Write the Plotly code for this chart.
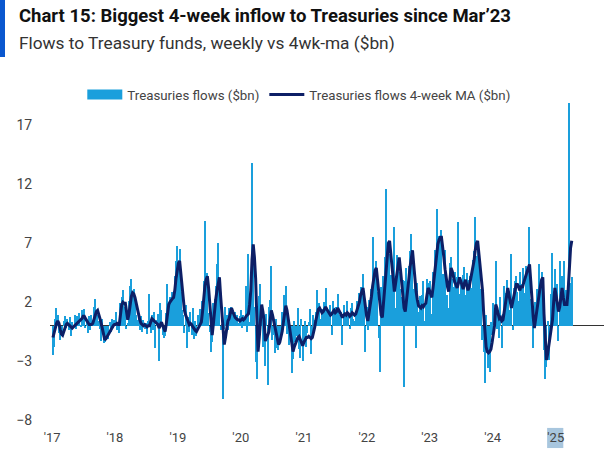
import plotly.graph_objects as go
import pandas as pd

# weekly flows to Treasury funds ($bn), one list per year
flows_2017 = [-2.5, -1.8, 0.6, 1.5, 0.9, -0.6, -1.2, -0.9, -0.5, 0.4, 0.8, -0.2, 0.6,
              -0.4, 0.7, -0.9, 0.3, -0.2, 0.9, -0.3, 0.8, 0.2, 1.1, -0.1, 1.3, 0.7,
              1.4, -0.2, 0.5, -0.6, 0.8, -0.4, 0.9, 0.1, 1.6, 2.3, 1.2, 0.9, 0.4,
              -0.3, -1.3, 0.6, -1.5, -1.4, -1.0, -0.6, -1.1, 0.3, -0.5, 0.6, -0.2, 0.5]
flows_2018 = [1.2, -0.4, 0.3, -0.6, 1.9, 2.4, 3.0, 1.0, 1.6, -0.3, 0.2, 2.1, 3.4,
              4.0, 2.7, 3.1, 1.8, 0.9, 0.5, 0.6, -0.4, 0.8, -0.5, 0.5, -0.3, 0.2,
              -0.7, 0.4, 2.7, -0.6, 0.9, -0.4, 1.2, -1.9, 0.5, 1.0, -3.0, 1.9, 1.3,
              -0.8, -1.0, -0.9, 1.1, 3.5, 1.5, 2.4, 1.6, 2.9, 2.6, 4.2, 5.5, 6.8]
flows_2019 = [4.8, 6.5, 2.9, 1.3, 0.9, -0.6, 1.8, -1.9, 0.7, -0.5, 1.2, -0.8, 1.5,
              -1.1, 0.4, -0.9, 0.9, -0.2, 1.4, 0.6, 2.1, 3.8, 8.9, 2.6, 4.5, 1.1,
              -0.5, -2.2, -1.4, 1.9, 2.3, 3.4, 5.2, 7.0, 2.8, -0.4, 0.1, -6.2, -0.3,
              1.6, 0.9, -0.4, 1.5, 0.8, 1.6, 1.1, 0.3, 1.2, 0.4, 0.9, 0.2, 0.8]
flows_2020 = [1.3, -0.2, 0.9, 0.4, 3.4, -0.5, 6.1, 0.3, 4.2, 13.8, 5.5, 1.6, -3.1,
              -4.5, -1.2, 2.5, 3.5, 1.1, -1.8, 0.2, -3.4, 1.0, -5.0, 1.6, 2.2, 5.1,
              -1.2, -0.8, -2.3, 0.6, -1.9, -2.1, -1.5, -0.6, 1.2, 0.8, 2.6, 3.4, -0.7,
              0.9, -1.6, -0.2, -4.0, -2.8, 0.4, -1.4, -0.9, 1.5, -2.0, -2.7, 0.6, -3.0]
flows_2021 = [-1.2, 0.4, -1.8, -0.6, 0.3, 1.4, -2.4, -1.1, 0.9, 0.5, 1.2, 3.0, 0.8,
              1.9, 0.6, 1.4, 0.9, 2.0, 3.2, 0.4, 1.3, 0.6, 1.8, -0.8, 2.1, 1.5,
              0.7, 1.6, 2.7, 0.9, 0.6, 1.2, -1.6, 1.8, 1.1, 0.5, 2.1, 0.8, -0.3,
              1.5, 1.9, 0.6, 0.4, 1.2, 2.1, 1.9, 2.8, 3.3, 2.6, 4.4, 2.2, -2.2]
flows_2022 = [1.6, -0.4, 2.2, 1.9, 3.1, 7.5, 2.8, 4.1, 5.5, 2.9, -1.0, -3.9, 3.3,
              2.0, 4.2, 5.8, 11.6, 4.0, 7.0, 6.1, 4.3, 2.9, 3.7, 8.4, 1.5, 6.0,
              5.2, 4.6, 3.1, 2.4, 3.9, -5.2, 3.8, 4.9, 2.6, 5.1, 6.3, 7.8, 6.2,
              3.1, 4.5, -1.9, 3.6, 1.2, 2.5, 0.9, 2.6, 3.8, 0.4, 2.1, 4.0, 3.6]
flows_2023 = [2.4, 3.8, 1.0, 4.6, 3.9, 6.4, 9.9, 5.2, 7.6, 6.9, 8.1, 4.4, 3.9,
              6.4, 1.2, 2.6, 1.5, 5.3, 5.8, 4.0, 3.3, 4.6, 1.9, 4.1, 8.8, 2.7,
              3.5, 1.8, 4.3, 5.0, 2.6, 4.5, 1.6, 3.9, 4.2, 3.2, 5.6, 6.3, 9.2,
              5.9, 6.8, 5.4, 2.6, 3.1, -1.2, -2.2, -4.9, 0.9, -1.4, -3.6, -3.9, 0.3]
flows_2024 = [-0.8, 1.9, 0.8, 5.5, -0.3, 1.2, -1.0, 2.4, -1.9, 1.0, 3.4, 2.8, 3.9,
              2.6, 0.9, 1.3, 6.1, -0.4, 3.2, 3.8, 4.2, 2.9, 2.1, 4.6, 3.0, 3.5,
              4.9, 2.8, 5.1, 4.4, 4.0, 8.4, 2.3, 1.6, -1.9, 0.8, 2.0, 3.1, 1.8,
              5.2, 3.4, 4.6, 3.0, -2.1, -4.5, -3.5, 0.4, -2.9, -0.6, 2.7, 6.2, 0.9]
flows_2025 = [4.8, 1.1, 3.5, -1.3, 5.5, 2.0, 4.2, 0.6, 5.5, 3.0, 2.1, 3.4, 18.9,
              3.6, 4.1]

# 4-week moving average ($bn)
ma_2017 = [-1.0, -0.6, -0.1, 0.2, 0.4, 0.2, -0.3, -0.7, -0.8, -0.5, -0.2, 0.1, 0.2,
           0.1, 0.0, -0.1, -0.2, -0.1, 0.0, 0.1, 0.2, 0.3, 0.4, 0.5, 0.6, 0.8,
           0.8, 0.6, 0.4, 0.2, 0.1, 0.1, 0.1, 0.2, 0.6, 1.0, 1.2, 1.3, 1.0,
           0.6, 0.2, -0.2, -0.8, -1.2, -1.1, -0.9, -0.7, -0.5, -0.3, -0.1, 0.0, 0.1]
ma_2018 = [0.1, 0.2, 0.1, 0.1, 0.9, 1.8, 2.0, 1.9, 1.9, 1.2, 0.5, 1.0, 1.8,
           2.5, 2.8, 2.7, 2.4, 1.9, 1.3, 0.9, 0.5, 0.2, 0.1, 0.0, 0.1, 0.0,
           -0.1, 0.0, 0.0, 0.3, 0.6, 0.5, 0.4, 0.3, 0.2, 0.1, -0.2, 0.1, 0.3,
           0.0, -0.3, -0.5, 0.2, 1.0, 1.8, 2.0, 2.2, 2.3, 2.4, 3.0, 4.0, 4.8]
ma_2019 = [5.3, 5.5, 4.5, 3.0, 2.0, 1.3, 0.9, 0.6, 0.3, 0.1, 0.2, 0.1, -0.1,
           -0.3, -0.4, -0.5, -0.3, 0.0, 0.2, 0.3, 1.2, 2.5, 3.4, 3.9, 4.2, 3.2,
           2.0, 0.5, -0.8, 0.2, 1.5, 2.3, 3.0, 3.7, 4.1, 2.5, 0.8, -0.6, -1.6,
           -1.0, 0.0, 0.4, 0.6, 1.1, 1.5, 1.2, 0.9, 0.7, 0.6, 0.5, 0.5, 0.4]
ma_2020 = [0.5, 0.6, 0.5, 0.6, 0.8, 0.9, 1.0, 1.8, 3.0, 5.6, 6.9, 5.8, 4.0,
           0.6, -2.2, -1.0, 0.6, 1.8, 1.2, 0.5, -1.3, -1.1, -0.8, -0.5, 0.4, 1.3,
           0.9, 0.4, 0.0, -0.6, -1.2, -1.6, -1.4, -1.0, -0.5, 0.3, 1.1, 1.7, 1.3,
           0.6, 0.0, -0.5, -1.4, -2.2, -1.8, -1.5, -1.2, -1.0, -0.9, -1.2, -1.5, -1.7]
ma_2021 = [-1.4, -1.2, -1.0, -1.0, -0.9, -1.0, -1.1, -1.0, -0.6, -0.1, 0.5, 1.0, 1.4,
           1.5, 1.3, 1.1, 1.2, 1.4, 1.6, 1.4, 1.2, 1.0, 0.9, 1.0, 1.2, 1.3,
           1.1, 1.2, 1.5, 1.3, 1.0, 0.8, 0.7, 0.9, 1.0, 0.9, 1.1, 1.0, 0.8,
           0.9, 1.1, 1.0, 0.9, 1.0, 1.3, 1.7, 2.0, 2.6, 3.0, 3.2, 2.4, 1.5]
ma_2022 = [0.8, 0.4, 1.0, 1.8, 2.5, 3.4, 4.2, 4.7, 4.9, 3.8, 2.5, 1.4, 0.9,
           0.7, 2.0, 3.5, 5.2, 6.4, 7.0, 7.2, 6.0, 4.6, 3.5, 2.9, 3.6, 4.5,
           5.3, 5.8, 4.8, 3.6, 2.4, 1.5, 1.2, 2.0, 3.0, 4.0, 5.0, 5.9, 6.4,
           5.2, 3.9, 2.9, 2.2, 1.7, 1.6, 1.5, 1.7, 1.6, 1.8, 1.9, 2.6, 3.2]
ma_2023 = [3.0, 2.7, 2.4, 3.2, 4.2, 5.0, 6.2, 6.9, 7.3, 7.5, 7.5, 6.8, 5.8,
           4.8, 3.9, 3.3, 2.9, 3.9, 4.9, 4.6, 4.1, 3.7, 3.5, 3.2, 3.6, 4.1,
           3.8, 3.4, 3.1, 3.6, 3.9, 3.4, 3.0, 3.3, 3.8, 4.3, 4.9, 5.5, 6.4,
           7.0, 7.2, 6.2, 5.0, 4.0, 3.0, 1.0, -1.0, -1.8, -2.2, -2.3, -2.2, -2.0]
ma_2024 = [-1.4, -0.7, 0.0, 1.8, 1.5, 1.0, 0.6, 0.7, 0.4, 0.5, 1.2, 2.1, 2.8,
           3.2, 2.6, 2.0, 1.5, 2.0, 2.6, 3.1, 3.5, 3.5, 3.2, 3.0, 3.4, 3.2,
           3.6, 4.0, 4.3, 4.6, 4.9, 5.2, 3.8, 2.0, 0.8, -0.2, 0.6, 1.4, 2.0,
           2.8, 3.4, 3.9, 4.1, 1.0, -1.2, -2.9, -2.4, -1.6, -1.0, -0.3, 0.5, 2.0]
ma_2025 = [3.2, 2.6, 1.8, 1.2, 1.6, 2.5, 3.2, 2.4, 1.8, 1.8, 1.8, 3.0, 5.6,
           6.6, 7.2]

flows = (flows_2017 + flows_2018 + flows_2019 + flows_2020 + flows_2021
         + flows_2022 + flows_2023 + flows_2024 + flows_2025)
ma = (ma_2017 + ma_2018 + ma_2019 + ma_2020 + ma_2021
      + ma_2022 + ma_2023 + ma_2024 + ma_2025)

flow_dates = pd.date_range('2017-01-06', periods=len(flows), freq='7D')
ma_dates = pd.date_range('2017-01-06', periods=len(ma), freq='7D')

year_ticks = ['2017-01-01', '2018-01-01', '2019-01-01', '2020-01-01', '2021-01-01',
              '2022-01-01', '2023-01-01', '2024-01-01', '2025-01-01']
year_labels = ["'17", "'18", "'19", "'20", "'21", "'22", "'23", "'24", "'25"]
y_ticks = [-8, -3, 2, 7, 12, 17]

BAR_BLUE = '#1a9fdc'
NAVY = '#0d1f66'
FONT = 'Roboto, Noto Sans, sans-serif'

fig = go.Figure()

fig.add_trace(go.Bar(
    x=flow_dates,
    y=flows,
    name='Treasuries flows ($bn)',
    marker=dict(color=BAR_BLUE, line=dict(width=0)),
    showlegend=False,
))

# legend-only entry so the bar key is drawn as a wide block like the original
fig.add_trace(go.Scatter(
    x=[None],
    y=[None],
    mode='lines',
    name='Treasuries flows ($bn)',
    line=dict(color=BAR_BLUE, width=10),
))

fig.add_trace(go.Scatter(
    x=ma_dates,
    y=ma,
    mode='lines',
    name='Treasuries flows 4-week MA ($bn)',
    line=dict(color=NAVY, width=3),
))

fig.update_layout(
    width=604,
    height=453,
    margin=dict(l=50, r=0, t=90, b=33),
    paper_bgcolor='white',
    plot_bgcolor='white',
    bargap=0,
    font=dict(family=FONT, size=13, color='#444444'),
    showlegend=True,
    legend=dict(
        orientation='h',
        x=0.45,
        xanchor='center',
        y=0.985,
        yanchor='middle',
        bgcolor='rgba(0,0,0,0)',
        font=dict(family=FONT, size=13.3, color='#444444'),
        itemwidth=35,
        tracegroupgap=0,
    ),
    xaxis=dict(
        range=['2016-12-20', '2025-10-08'],
        tickvals=year_ticks,
        ticktext=year_labels,
        showgrid=False,
        showline=False,
        zeroline=False,
        automargin=False,
        ticks='outside',
        ticklen=5,
        tickcolor='rgba(0,0,0,0)',
        tickfont=dict(family=FONT, size=13, color='#444444'),
    ),
    yaxis=dict(
        range=[-8, 20],
        tickvals=y_ticks,
        showgrid=False,
        showline=False,
        zeroline=True,
        zerolinecolor='#333333',
        zerolinewidth=1,
        automargin=False,
        ticks='outside',
        ticklen=14,
        tickcolor='rgba(0,0,0,0)',
        tickfont=dict(family=FONT, size=14, color='#444444'),
    ),
)

# title block
fig.add_annotation(
    text='<b>Chart 15: Biggest 4-week inflow to Treasuries since Mar’23</b>',
    xref='paper', yref='paper', x=-0.06, y=1.224,
    xanchor='left', yanchor='middle', showarrow=False,
    font=dict(family=FONT, size=18.5, color='#111111'),
)
fig.add_annotation(
    text='Flows to Treasury funds, weekly vs 4wk-ma ($bn)',
    xref='paper', yref='paper', x=-0.06, y=1.142,
    xanchor='left', yanchor='middle', showarrow=False,
    font=dict(family=FONT, size=17.3, color='#333333'),
)

# blue accent bar at the left of the title
fig.add_shape(
    type='rect', xref='paper', yref='paper',
    x0=-0.0903, x1=-0.0812, y0=1.10, y1=1.28,
    fillcolor='#0a57cf', line=dict(width=0),
)

# highlight box behind the '25 label
fig.add_shape(
    type='rect', xref='x', yref='paper',
    x0='2024-11-12', x1='2025-02-14', y0=-0.085, y1=-0.024,
    fillcolor='#a8c6de', line=dict(width=0), layer='below',
)

# drop the default page margin so the 604x453 figure sits at the window origin
fig.write_html('out.html', config={'displayModeBar': False},
               post_script="document.body.style.margin='0';")
